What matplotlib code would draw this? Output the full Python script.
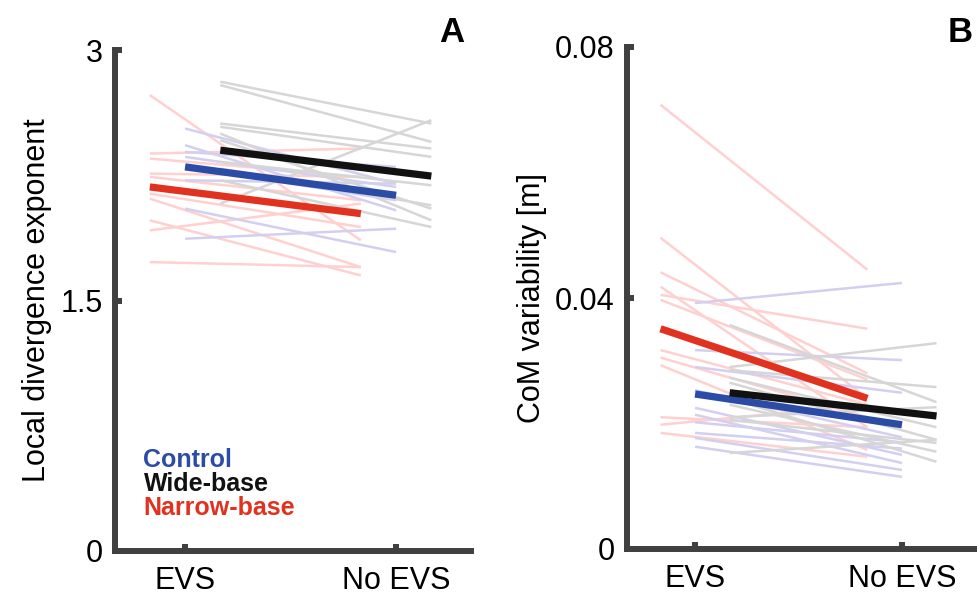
import matplotlib
matplotlib.use("Agg")
import matplotlib.pyplot as plt
import numpy as np

plt.rcParams['font.family'] = ['Liberation Sans', 'DejaVu Sans']

# ---------------- data ----------------
conditions = ["EVS", "No EVS"]
groups = ["Control", "Wide-base", "Narrow-base"]

# Panel A: local divergence exponent (individual subjects: EVS, No EVS)
a_control_evs   = [2.53, 2.43, 2.39, 2.36, 2.30, 2.22, 2.05, 1.87]
a_control_noevs = [2.20, 2.04, 2.30, 2.18, 2.10, 2.20, 1.79, 1.93]
a_wide_evs      = [2.81, 2.79, 2.56, 2.54, 2.50, 2.46, 2.33, 2.29, 2.22, 2.08]
a_wide_noevs    = [2.56, 2.45, 2.41, 2.36, 1.98, 2.05, 2.19, 2.07, 1.94, 2.58]
a_narrow_evs    = [2.73, 2.38, 2.35, 2.26, 2.24, 2.14, 2.11, 1.98, 1.92, 1.73]
a_narrow_noevs  = [1.86, 2.41, 2.24, 2.24, 2.10, 1.94, 1.70, 1.65, 2.08, 1.70]
a_mean_control  = [2.30, 2.13]
a_mean_wide     = [2.40, 2.245]
a_mean_narrow   = [2.18, 2.02]

# Panel B: CoM variability [m]
b_control_evs   = [0.0392, 0.0317, 0.0290, 0.0253, 0.0225, 0.0214, 0.0185, 0.0177, 0.0163, 0.0202]
b_control_noevs = [0.0424, 0.0301, 0.0249, 0.0178, 0.0150, 0.0137, 0.0160, 0.0126, 0.0115, 0.0170]
b_wide_evs      = [0.0357, 0.0290, 0.0285, 0.0273, 0.0265, 0.0210, 0.0206, 0.0153, 0.0240, 0.0230]
b_wide_noevs    = [0.0234, 0.0328, 0.0258, 0.0194, 0.0174, 0.0226, 0.0169, 0.0174, 0.0139, 0.0155]
b_narrow_evs    = [0.0708, 0.0496, 0.0405, 0.0441, 0.0418, 0.0397, 0.0317, 0.0305, 0.0293, 0.0210, 0.0198, 0.0185]
b_narrow_noevs  = [0.0445, 0.0240, 0.0351, 0.0280, 0.0194, 0.0270, 0.0230, 0.0210, 0.0158, 0.0194, 0.0230, 0.0147]
b_mean_control  = [0.0247, 0.0198]
b_mean_wide     = [0.0249, 0.0212]
b_mean_narrow   = [0.0351, 0.0240]

# ---------------- style ----------------
offsets = {"Control": 0.0, "Wide-base": 0.167, "Narrow-base": -0.167}
light = {"Control": "#d3cff0", "Wide-base": "#d6d6d6", "Narrow-base": "#ffd0d0"}
dark = {"Control": "#2b4ca6", "Wide-base": "#111111", "Narrow-base": "#e0321f"}
axis_col = "#404040"

fig = plt.figure(figsize=(9.77, 5.98), dpi=100)
axA = fig.add_axes([115/977, 47/598, 356/977, 501/598])
axB = fig.add_axes([627/977, 49/598, 348/977, 502/598])


def draw(ax, data, means, ylim, yticks, yticklabels, ylabel, xlim):
    x = np.array([1, 2])
    for g in ["Narrow-base", "Control", "Wide-base"]:
        evs, noevs = data[g]
        for s, e in zip(evs, noevs):
            ax.plot(x + offsets[g], [s, e], color=light[g], lw=1.8,
                    solid_capstyle='butt', zorder=1)
    for g in ["Narrow-base", "Control", "Wide-base"]:
        ax.plot(x + offsets[g], means[g], color=dark[g], lw=5.2,
                solid_capstyle='butt', zorder=3)
    ax.set_xlim(*xlim)
    ax.set_ylim(*ylim)
    ax.set_xticks(x)
    ax.set_xticklabels(conditions)
    ax.set_yticks(yticks)
    ax.set_yticklabels(yticklabels)
    for side in ["top", "right"]:
        ax.spines[side].set_visible(False)
    for side in ["left", "bottom"]:
        sp = ax.spines[side]
        sp.set_linewidth(4.3)
        sp.set_color(axis_col)
        sp.set_capstyle('projecting')
        sp.set_zorder(5)
    ax.tick_params(direction='in', length=5, width=4.3, color=axis_col,
                   labelsize=22, labelcolor='black')
    ax.tick_params(axis='x', pad=11)
    ax.tick_params(axis='y', pad=9)
    ax.set_ylabel(ylabel, fontsize=22, labelpad=6)
    ax.patch.set_visible(False)


dataA = {"Control": (a_control_evs, a_control_noevs),
         "Wide-base": (a_wide_evs, a_wide_noevs),
         "Narrow-base": (a_narrow_evs, a_narrow_noevs)}
meansA = {"Control": a_mean_control, "Wide-base": a_mean_wide, "Narrow-base": a_mean_narrow}
dataB = {"Control": (b_control_evs, b_control_noevs),
         "Wide-base": (b_wide_evs, b_wide_noevs),
         "Narrow-base": (b_narrow_evs, b_narrow_noevs)}
meansB = {"Control": b_mean_control, "Wide-base": b_mean_wide, "Narrow-base": b_mean_narrow}

draw(axA, dataA, meansA, (0, 3), [0, 1.5, 3], ["0", "1.5", "3"],
     "Local divergence exponent", (0.668, 2.355))
draw(axB, dataB, meansB, (0, 0.08), [0, 0.04, 0.08], ["0", "0.04", "0.08"],
     "CoM variability [m]", (0.671, 2.353))

# legend text in panel A
for i, g in enumerate(groups):
    axA.text(0.08, 0.181 - i * 0.048, g, transform=axA.transAxes,
             color=dark[g], fontsize=18, fontweight='bold', va='center', ha='left')

fig.text(452/977, 1 - 33/598, "A", fontsize=25, fontweight='bold', ha='center', va='center')
fig.text(960/977, 1 - 33/598, "B", fontsize=25, fontweight='bold', ha='center', va='center')

fig.savefig("out.png", dpi=100)
